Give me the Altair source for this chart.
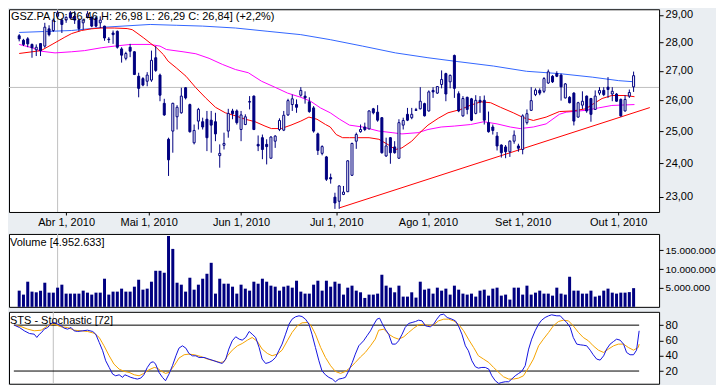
import json
import altair as alt
import pandas as pd

# ---------------- data ----------------
title_main = "GSZ.PA [O: 26,46  H: 26,98  L: 26,29  C: 26,84] (+2,2%)"
title_volume = "Volume [4.952.633]"
title_stoch = "STS - Stochastic [72]"

opens = [28.24, 28.08, 28.13, 27.93, 27.74, 27.96, 27.87, 28.49, 28.43, 28.95,
         28.81, 28.81, 29.08, 28.95, 28.80, 28.71, 28.93, 28.91, 28.89, 28.71,
         28.59, 28.12, 28.34, 28.40, 27.77, 27.44, 27.83, 27.67, 26.82, 26.74,
         26.65, 26.69, 27.46, 26.86, 25.91, 24.75, 25.01, 25.47, 25.60, 26.43,
         25.87, 24.64, 25.33, 25.31, 25.39, 25.36, 25.31, 24.24, 24.56, 25.01,
         25.66, 25.66, 25.06, 25.22, 25.95, 26.15, 24.59, 24.80, 24.59, 24.16,
         24.69, 25.06, 25.04, 25.53, 25.87, 25.87, 26.18, 26.15, 25.96, 25.76,
         24.92, 24.31, 24.20, 23.57, 22.99, 22.87, 23.07, 23.15, 23.64, 24.69,
         24.99, 25.14, 25.08, 25.73, 25.62, 25.44, 24.23, 24.80, 24.51, 24.16,
         25.20, 25.55, 25.44, 25.70, 25.73, 25.90, 25.66, 26.34, 26.25, 26.54,
         26.91, 26.63, 27.54, 26.23, 25.50, 26.11, 26.06, 25.58, 26.01, 26.01,
         25.28, 25.14, 24.85, 24.57, 24.51, 24.36, 24.69, 24.54, 24.43, 25.28,
         25.68, 26.20, 26.34, 26.31, 26.59, 26.82, 26.91, 26.86, 26.09, 26.11,
         26.25, 25.46, 25.85, 26.15, 26.07, 25.71, 26.25, 26.34, 26.45, 26.22,
         26.22, 26.04, 25.66, 26.15, 26.46]
highs = [28.30, 28.13, 28.19, 27.96, 27.93, 27.98, 28.71, 28.62, 28.87, 29.16,
         28.87, 28.95, 29.14, 29.14, 28.87, 28.86, 29.14, 28.95, 28.95, 28.95,
         28.60, 28.19, 28.43, 28.43, 27.83, 27.67, 27.95, 27.69, 26.94, 26.79,
         26.96, 27.71, 27.87, 26.91, 26.06, 24.80, 25.93, 25.85, 26.43, 26.45,
         25.90, 25.22, 25.76, 25.44, 25.66, 25.66, 25.60, 24.59, 24.96, 25.73,
         25.73, 25.71, 25.66, 25.55, 26.15, 26.17, 24.87, 24.90, 24.75, 24.85,
         24.88, 25.42, 25.66, 26.06, 26.20, 26.04, 26.45, 26.31, 26.11, 25.82,
         24.96, 24.56, 24.23, 23.69, 23.12, 23.34, 23.32, 24.10, 24.64, 24.96,
         25.22, 25.28, 25.68, 25.76, 25.85, 25.46, 24.80, 24.82, 24.69, 25.39,
         25.44, 25.76, 25.76, 25.76, 26.45, 25.93, 26.34, 26.45, 26.48, 27.02,
         26.94, 26.88, 27.57, 26.31, 26.15, 26.13, 26.09, 26.18, 26.15, 26.17,
         25.64, 25.22, 24.98, 24.59, 24.57, 24.72, 25.03, 24.61, 25.55, 25.71,
         26.45, 26.41, 26.41, 26.79, 27.05, 26.86, 26.99, 26.91, 26.59, 26.15,
         26.28, 25.96, 26.31, 26.17, 26.09, 26.34, 26.45, 26.45, 26.79, 26.45,
         26.25, 26.07, 26.18, 26.37, 26.98]
lows = [28.04, 27.87, 27.83, 27.46, 27.52, 27.52, 27.81, 28.22, 28.38, 28.89,
        28.34, 28.71, 28.83, 28.67, 28.40, 28.46, 28.87, 28.55, 28.55, 28.52,
        28.06, 27.98, 27.95, 27.78, 27.29, 27.37, 27.48, 26.86, 26.11, 26.48,
        26.48, 26.63, 26.97, 25.98, 25.50, 23.62, 24.33, 25.06, 25.57, 26.04,
        24.96, 24.59, 25.06, 25.06, 24.38, 24.33, 24.69, 23.87, 24.43, 24.80,
        25.39, 25.22, 24.69, 25.20, 25.71, 25.04, 24.38, 24.13, 23.97, 24.15,
        24.48, 25.01, 25.01, 25.50, 25.66, 25.60, 26.13, 25.90, 25.60, 24.96,
        24.26, 24.25, 23.47, 23.39, 22.65, 22.65, 23.05, 23.14, 23.62, 24.45,
        24.96, 25.01, 25.06, 25.55, 25.31, 24.30, 24.20, 23.99, 24.30, 24.14,
        25.06, 25.33, 25.39, 25.66, 25.71, 25.48, 25.64, 26.09, 26.22, 26.41,
        25.98, 26.41, 26.09, 25.62, 25.47, 25.55, 25.33, 25.55, 25.60, 25.22,
        24.96, 24.90, 24.40, 24.18, 24.16, 24.20, 24.61, 24.36, 24.28, 25.22,
        25.66, 26.15, 26.18, 26.25, 26.56, 26.59, 26.79, 26.00, 26.07, 25.91,
        25.19, 25.44, 25.72, 25.60, 25.31, 25.69, 26.18, 26.15, 26.09, 25.98,
        25.96, 25.47, 25.64, 26.09, 26.29]
closes = [28.13, 27.93, 27.95, 27.81, 27.83, 27.71, 28.55, 28.28, 28.81, 29.08,
          28.65, 28.91, 28.89, 28.81, 28.50, 28.81, 29.04, 28.59, 28.59, 28.81,
          28.16, 28.10, 28.28, 27.83, 27.55, 27.61, 27.69, 26.88, 26.41, 26.52,
          26.86, 27.37, 27.02, 26.18, 25.53, 24.11, 25.91, 25.78, 26.15, 26.09,
          24.99, 25.03, 25.71, 25.14, 24.80, 25.20, 24.92, 24.31, 24.62, 25.58,
          25.57, 25.28, 25.53, 25.47, 25.97, 25.06, 24.54, 24.43, 24.52, 24.82,
          24.85, 25.35, 25.52, 26.00, 26.06, 25.78, 26.34, 26.09, 25.64, 25.01,
          24.40, 24.52, 23.52, 23.53, 22.82, 23.32, 23.14, 24.08, 24.62, 24.90,
          25.06, 25.06, 25.66, 25.60, 25.36, 24.33, 24.54, 24.33, 24.33, 25.28,
          25.35, 25.36, 25.55, 25.68, 25.98, 25.50, 26.29, 26.29, 26.47, 26.71,
          26.22, 26.85, 26.41, 25.66, 26.07, 25.71, 25.36, 26.01, 25.95, 25.36,
          24.99, 25.03, 24.54, 24.33, 24.36, 24.69, 24.88, 24.47, 25.50, 25.57,
          26.00, 26.35, 26.25, 26.74, 26.97, 26.63, 26.82, 26.46, 26.56, 25.93,
          25.33, 25.93, 25.98, 25.66, 25.55, 26.15, 26.34, 26.20, 26.37, 26.31,
          25.98, 25.50, 26.04, 26.27, 26.84]
volume_millions = [4.29, 3.24, 6.66, 4.03, 3.85, 4.29, 6.39, 3.76, 3.76, 5.08,
                   5.87, 3.50, 3.50, 3.50, 3.50, 4.29, 3.76, 3.24, 3.76, 3.76,
                   7.45, 3.24, 4.03, 4.03, 4.82, 4.03, 4.03, 5.34, 7.18, 4.55,
                   4.82, 6.66, 9.55, 9.55, 9.03, 18.76, 15.34, 6.39, 5.87, 4.03,
                   7.71, 4.55, 5.87, 7.45, 8.76, 11.66, 3.50, 7.45, 6.13, 6.13,
                   5.34, 3.50, 5.87, 4.82, 4.29, 6.66, 6.13, 7.45, 6.66, 5.61,
                   5.34, 4.29, 5.34, 5.61, 5.08, 6.92, 4.03, 3.50, 3.50, 5.87,
                   6.92, 4.29, 6.92, 5.34, 6.66, 6.13, 3.24, 5.08, 5.61, 4.29,
                   3.85, 2.36, 3.24, 3.24, 3.50, 8.50, 5.61, 5.08, 3.85, 5.61,
                   2.71, 2.71, 3.85, 2.45, 6.66, 4.55, 4.82, 3.50, 5.08, 4.29,
                   4.82, 3.24, 5.61, 4.55, 3.50, 3.24, 3.50, 2.71, 4.29, 4.55,
                   2.97, 4.82, 5.08, 2.97, 3.24, 1.92, 5.08, 5.08, 3.24, 5.61,
                   3.24, 3.76, 4.29, 3.50, 3.50, 2.97, 5.08, 3.50, 3.24, 7.97,
                   4.29, 4.29, 3.50, 3.50, 4.29, 2.71, 2.97, 4.29, 4.82, 3.76,
                   3.50, 3.76, 3.76, 3.90, 4.95]

# moving averages (trading-day index, price)
ma_red_i = [0, 5.1, 7.7, 10.7, 12.3, 14.6, 16.9, 19.2, 22.3, 25.3, 26.5, 27.6, 29.2,
            30.7, 32.2, 33.8, 34.9, 36.8, 39.1, 41.4, 43.7, 46.0, 48.3, 50.7, 53.0,
            55.3, 57.6, 59.1, 61.4, 63.7, 66.0, 67.9, 69.8, 71.8, 72.9, 74.3, 75.8,
            77.4, 82.0, 84.3, 86.6, 88.2, 89.7, 92.0, 93.9, 95.8, 98.2, 100.5, 103.5,
            105.8, 108.2, 110.5, 112.8, 115.8, 118.2, 120.5, 123.5, 126.6, 129.7,
            132.8, 134.3, 136.6, 138.9, 142.0, 144.2]
ma_red_v = [27.61, 27.71, 27.93, 28.19, 28.32, 28.43, 28.49, 28.52, 28.52, 28.50, 28.46,
            28.34, 28.16, 27.98, 27.81, 27.57, 27.34, 27.11, 26.82, 26.43, 26.09, 25.78,
            25.60, 25.50, 25.39, 25.31, 25.17, 25.09, 25.09, 25.20, 25.33, 25.46, 25.39,
            25.22, 25.14, 24.90, 24.80, 24.80, 24.80, 24.75, 24.57, 24.43, 24.48, 24.69,
            24.96, 25.20, 25.42, 25.60, 25.71, 25.85, 25.96, 25.93, 25.78, 25.60, 25.44,
            25.35, 25.46, 25.64, 25.66, 25.73, 25.87, 26.07, 26.17, 26.17, 26.13]
ma_magenta_i = [0, 3.1, 5.1, 8.4, 12.3, 15.3, 19.2, 22.3, 26.1, 30.7, 33.0, 34.5, 38.4,
                41.4, 44.5, 47.6, 50.7, 53.7, 56.8, 59.9, 62.9, 66.0, 68.3, 70.6, 72.9,
                75.1, 77.4, 80.5, 84.3, 87.4, 89.7, 93.5, 95.8, 98.9, 102.0, 105.8,
                108.9, 112.0, 115.1, 117.4, 120.5, 123.5, 126.6, 128.2, 132.8, 135.8,
                138.9, 144.2]
ma_magenta_v = [27.93, 27.81, 27.69, 27.63, 27.67, 27.71, 27.81, 27.87, 27.93, 27.93,
                27.87, 27.75, 27.67, 27.60, 27.44, 27.23, 27.05, 26.94, 26.65, 26.45,
                26.25, 26.11, 25.98, 25.76, 25.60, 25.39, 25.20, 25.14, 25.01, 24.96,
                24.92, 24.96, 25.06, 25.14, 25.17, 25.22, 25.31, 25.24, 25.14, 25.09,
                25.14, 25.24, 25.55, 25.62, 25.68, 25.76, 25.84, 25.87]
ma_blue_i = [0, 12.3, 20.0, 30.7, 36.8, 43.0, 50.7, 58.3, 66.0, 72.9, 80.5, 88.2, 95.8,
             102.0, 111.2, 118.9, 126.6, 134.3, 140.5, 144.2]
ma_blue_v = [28.36, 28.43, 28.55, 28.65, 28.62, 28.59, 28.52, 28.40, 28.28, 28.10, 27.87,
             27.63, 27.46, 27.34, 27.17, 26.99, 26.91, 26.79, 26.67, 26.63]

trend_i = [75.1, 147.8]
trend_v = [22.68, 25.77]

stoch_k_i = [0.0, 1.2, 2.3, 3.5, 4.6, 5.2, 5.8, 6.3, 6.9, 7.7, 8.5, 9.2, 10.0, 10.8, 11.5,
             12.3, 13.1, 13.8, 14.6, 15.8, 16.9, 18.1, 18.8, 19.6, 20.4, 21.1, 21.9, 22.7,
             23.4, 24.2, 25.0, 25.5, 26.1, 26.9, 27.7, 28.4, 29.2, 29.9, 30.7, 31.5, 32.1,
             32.6, 33.4, 34.2, 34.9, 35.7, 36.5, 37.3, 38.0, 38.8, 39.6, 40.3, 41.1, 41.9,
             42.6, 43.8, 44.9, 46.1, 47.2, 48.0, 48.8, 49.5, 50.3, 51.1, 51.9, 52.6, 53.4,
             54.2, 54.9, 55.7, 56.5, 57.2, 58.0, 58.8, 59.5, 60.3, 61.1, 61.8, 62.6, 63.4,
             64.1, 64.9, 65.7, 66.4, 67.2, 68.0, 68.7, 69.5, 70.3, 71.0, 71.8, 72.6, 73.4,
             74.1, 74.9, 75.7, 76.4, 77.2, 78.0, 78.7, 79.5, 80.6, 81.4, 82.2, 83.0, 83.7,
             84.3, 84.9, 85.6, 86.4, 87.2, 88.0, 88.7, 89.5, 90.2, 91.0, 91.8, 92.6, 93.3,
             94.1, 94.9, 96.0, 96.8, 97.5, 98.3, 99.1, 99.9, 101.0, 101.8, 102.5, 103.3,
             104.1, 104.8, 105.6, 106.4, 107.1, 107.9, 108.7, 109.5, 110.2, 111.0, 111.8,
             112.5, 113.3, 114.1, 114.8, 115.6, 116.4, 117.1, 117.9, 118.7, 119.4, 120.2,
             121.0, 121.7, 122.5, 123.3, 124.0, 125.2, 126.0, 126.7, 127.5, 128.3, 129.0,
             129.8, 130.6, 131.3, 132.1, 132.9, 133.6, 134.4, 135.2, 136.0, 136.7, 137.5,
             138.3, 139.0, 139.8, 140.6, 141.3, 142.1, 142.9, 143.6, 144.2]
stoch_k_v = [80.0, 76.9, 72.6, 69.1, 68.2, 63.9, 68.2, 70.4, 74.8, 76.9, 82.2, 83.5, 81.3,
             79.1, 76.1, 74.8, 76.9, 72.6, 71.7, 72.6, 73.4, 71.7, 68.2, 57.4, 46.5, 33.4,
             24.7, 16.0, 13.8, 15.1, 11.7, 15.1, 13.8, 11.7, 10.4, 9.5, 10.8, 15.1, 24.7,
             31.2, 32.1, 29.1, 18.2, 11.7, 7.3, 16.0, 26.9, 39.9, 49.9, 53.0, 49.9, 43.0,
             39.9, 39.9, 37.8, 37.8, 35.6, 33.4, 31.2, 29.9, 35.6, 48.7, 59.5, 64.8, 61.7,
             60.4, 63.9, 71.7, 68.2, 63.9, 50.8, 35.6, 29.9, 31.2, 33.4, 37.8, 47.3, 55.2,
             68.2, 81.3, 87.8, 90.9, 92.2, 91.3, 87.8, 81.3, 68.2, 50.8, 33.4, 20.4, 15.1,
             11.7, 9.5, 6.0, 9.5, 10.4, 11.7, 20.4, 31.2, 42.1, 53.0, 59.5, 66.1, 72.6,
             81.3, 87.8, 89.1, 82.2, 74.8, 68.2, 55.2, 55.2, 59.5, 68.2, 76.9, 82.2, 83.5,
             84.8, 86.5, 85.6, 79.1, 77.8, 81.3, 87.8, 93.5, 94.3, 90.0, 87.8, 85.6, 79.1,
             68.2, 53.0, 46.5, 33.4, 25.6, 23.8, 24.7, 24.7, 22.5, 13.8, 7.3, 3.8, 5.1, 6.0,
             6.0, 9.5, 13.8, 16.9, 19.5, 26.9, 48.7, 61.7, 72.6, 81.3, 86.5, 90.0, 92.2,
             93.5, 92.2, 92.2, 87.8, 83.5, 76.9, 63.9, 55.2, 54.3, 53.8, 53.0, 47.3, 41.3,
             35.6, 34.3, 39.9, 48.7, 55.2, 58.7, 61.7, 60.4, 55.2, 44.3, 41.3, 41.3, 47.3,
             72.6]
stoch_d_i = [0.0, 1.5, 3.1, 4.6, 6.2, 7.7, 9.2, 10.8, 12.3, 13.8, 15.4, 16.9, 18.4, 19.6,
             20.7, 21.9, 23.0, 24.2, 25.4, 26.5, 27.7, 28.8, 29.9, 31.1, 32.3, 33.0, 33.8,
             34.9, 35.7, 36.9, 38.0, 39.2, 40.3, 41.5, 43.0, 44.6, 46.1, 47.6, 48.4, 49.2,
             50.3, 51.5, 52.6, 53.8, 54.9, 56.1, 57.2, 58.4, 59.5, 60.7, 61.8, 63.0, 64.1,
             65.3, 66.4, 67.6, 68.4, 69.5, 70.7, 71.8, 73.0, 74.1, 75.3, 76.4, 77.6, 78.7,
             79.9, 81.0, 82.2, 83.3, 84.1, 85.3, 86.4, 87.6, 88.7, 89.9, 91.0, 92.2, 93.3,
             94.5, 95.6, 96.8, 97.9, 99.1, 100.2, 101.4, 102.5, 103.7, 104.8, 106.0, 107.1,
             108.3, 109.5, 110.6, 111.8, 112.9, 114.1, 115.2, 116.4, 117.5, 118.7, 119.8,
             121.0, 122.1, 123.3, 124.4, 125.6, 126.7, 127.9, 129.0, 130.2, 131.3, 132.5,
             133.6, 134.8, 136.0, 137.1, 138.3, 139.4, 140.6, 141.7, 142.9, 144.0, 144.2]
stoch_d_v = [80.0, 78.2, 74.8, 72.6, 73.4, 79.1, 81.3, 77.8, 76.9, 73.4, 72.6, 71.7, 69.5,
             63.9, 53.0, 39.9, 29.1, 22.5, 19.5, 18.2, 15.1, 13.8, 16.9, 21.7, 24.7, 23.8,
             20.4, 16.9, 18.2, 26.9, 36.9, 41.3, 42.1, 41.3, 39.1, 35.6, 33.4, 31.2, 32.1,
             39.9, 47.3, 53.0, 56.0, 60.4, 63.9, 58.7, 48.7, 43.0, 40.0, 42.1, 47.3, 59.5,
             70.4, 79.1, 83.0, 83.5, 80.4, 68.2, 50.8, 37.8, 26.9, 19.5, 16.9, 19.5, 24.7,
             31.2, 38.5, 44.3, 53.0, 61.7, 73.4, 74.8, 68.2, 63.9, 61.7, 64.8, 70.4, 76.1,
             80.4, 81.3, 79.1, 80.4, 85.6, 87.8, 87.8, 85.6, 81.3, 72.6, 61.7, 50.8, 40.0,
             35.6, 31.2, 24.7, 18.2, 12.5, 9.5, 9.5, 10.8, 13.8, 24.7, 35.6, 53.0, 61.7,
             70.4, 79.1, 84.8, 86.5, 85.6, 79.1, 70.4, 63.9, 59.5, 53.0, 47.3, 44.3, 48.7,
             53.0, 55.2, 55.2, 50.8, 47.3, 50.8, 55.2]
stoch_levels = [80, 20]

month_tick_pos = [11, 30.35, 52, 74.3, 95.8, 118, 140.4]
month_labels = ["Abr 1, 2010", "Mai 1, 2010", "Jun 1, 2010", "Jul 1, 2010",
                "Ago 1, 2010", "Set 1, 2010", "Out 1, 2010"]
price_ticks = [23, 24, 25, 26, 27, 28, 29]
volume_ticks = [5, 10, 15]
volume_tick_labels = ["5.000.000", "10.000.000", "15.000.000"]
stoch_ticks = [20, 40, 60, 80]
cursor_i = 9.0
cursor_price = 26.44

# ---------------- styling ----------------
NAVY = "#000080"
FONT = "Liberation Sans"
W = 651
X_DOMAIN = [-1.22, 148.8]

xs = alt.Scale(domain=X_DOMAIN, nice=False, zero=False)
ys_price = alt.Scale(type="log", domain=[22.56, 29.21], nice=False, zero=False)
ys_vol = alt.Scale(domain=[0, 19.3], nice=False, zero=False)
ys_sto = alt.Scale(domain=[3.4, 97.4], nice=False, zero=False)

x_axis = alt.Axis(
    orient="bottom", values=month_tick_pos, title=None, grid=False, domain=False,
    tickSize=3, labelPadding=2, labelFlush=False, labelOverlap=False,
    labelExpr="%s[indexof(%s, datum.value)]" % (json.dumps(month_labels), json.dumps(month_tick_pos)),
)
price_axis = alt.Axis(
    orient="right", values=price_ticks, title=None, grid=False, domain=False,
    tickSize=4, labelPadding=2,
    labelExpr="replace(format(datum.value, '.2f'), '.', ',')",
)
vol_axis = alt.Axis(
    orient="right", values=volume_ticks, title=None, grid=False, domain=False,
    tickSize=4, labelPadding=2, labelFontSize=10,
    labelExpr="%s[indexof(%s, datum.value)]" % (json.dumps(volume_tick_labels), json.dumps(volume_ticks)),
)
sto_axis = alt.Axis(
    orient="right", values=stoch_ticks, title=None, grid=False, domain=False,
    tickSize=4, labelPadding=2,
)

n = len(opens)
candles = pd.DataFrame({
    "i": list(range(n)), "open": opens, "high": highs, "low": lows, "close": closes,
    "vol": volume_millions,
})
candles["fillc"] = ["white" if c >= o else NAVY for o, c in zip(opens, closes)]

def px(field):
    return alt.Y(field, type="quantitative", scale=ys_price, axis=price_axis)

def xi(field="i", axis=None):
    return alt.X(field, type="quantitative", scale=xs, axis=axis)

cross_df = pd.DataFrame({"i": [cursor_i], "p": [cursor_price]})

cross_h = alt.Chart(cross_df).mark_rule(color="#C0C0C0", strokeWidth=1).encode(
    y=px("p:Q"), x=alt.value(0), x2=alt.value(W))
cross_v_main = alt.Chart(cross_df).mark_rule(color="#C0C0C0", strokeWidth=1).encode(
    x=xi("i:Q", x_axis), y=alt.value(0), y2=alt.value(203))

def ma_layer(ii, vv, color):
    df = pd.DataFrame({"i": ii, "p": vv})
    return alt.Chart(df).mark_line(color=color, strokeWidth=1).encode(x=xi("i:Q", x_axis), y=px("p:Q"))

blue_ma = ma_layer(ma_blue_i, ma_blue_v, "#3366FF")
mag_ma = ma_layer(ma_magenta_i, ma_magenta_v, "#FF00FF")
red_ma = ma_layer(ma_red_i, ma_red_v, "#FF0000")
trend = ma_layer(trend_i, trend_v, "#FF0000")

wicks = alt.Chart(candles).mark_rule(color=NAVY, strokeWidth=1).encode(
    x=xi("i:Q", x_axis), y=px("low:Q"), y2="high:Q")
bodies = alt.Chart(candles).mark_bar(size=2, stroke=NAVY, strokeWidth=1).encode(
    x=xi("i:Q", x_axis), y=px("open:Q"), y2="close:Q",
    fill=alt.Fill("fillc:N", scale=None))

head = alt.Chart(cross_df).mark_text(
    text=title_main, align="left", baseline="top", font=FONT, fontSize=11, color="black"
).encode(x=alt.value(2), y=alt.value(2))

main = alt.layer(cross_h, cross_v_main, blue_ma, mag_ma, red_ma, trend, wicks, bodies, head).properties(
    width=W, height=203)

# volume panel
cross_v_vol = alt.Chart(cross_df).mark_rule(color="#C0C0C0").encode(
    x=xi("i:Q"), y=alt.value(0), y2=alt.value(73))
vol_bars = alt.Chart(candles).mark_bar(size=3, color=NAVY).encode(
    x=xi("i:Q"), y=alt.Y("vol:Q", scale=ys_vol, axis=vol_axis))
vol_head = alt.Chart(cross_df).mark_text(
    text=title_volume, align="left", baseline="top", font=FONT, fontSize=11, color="black"
).encode(x=alt.value(1), y=alt.value(3))
volume = alt.layer(cross_v_vol, vol_bars, vol_head).properties(width=W, height=73)

# stochastic panel
lev_df = pd.DataFrame({"a": [-0.1, -0.1], "b": [144.2, 144.2], "v": stoch_levels})
levels = alt.Chart(lev_df).mark_rule(color="black", strokeWidth=1).encode(
    x=xi("a:Q"), x2="b:Q", y=alt.Y("v:Q", scale=ys_sto, axis=sto_axis))
cross_v_sto = alt.Chart(cross_df).mark_rule(color="#C0C0C0").encode(
    x=xi("i:Q"), y=alt.value(0), y2=alt.value(72))
d_line = alt.Chart(pd.DataFrame({"i": stoch_d_i, "v": stoch_d_v})).mark_line(
    color="#F5A300", strokeWidth=1).encode(x=xi("i:Q"), y=alt.Y("v:Q", scale=ys_sto, axis=sto_axis))
k_line = alt.Chart(pd.DataFrame({"i": stoch_k_i, "v": stoch_k_v})).mark_line(
    color="#1414E0", strokeWidth=1).encode(x=xi("i:Q"), y=alt.Y("v:Q", scale=ys_sto, axis=sto_axis))
sto_head = alt.Chart(cross_df).mark_text(
    text=title_stoch, align="left", baseline="top", font=FONT, fontSize=11, color="black"
).encode(x=alt.value(1), y=alt.value(3))
stoch = alt.layer(cross_v_sto, levels, d_line, k_line, sto_head).properties(width=W, height=72)

lower = alt.vconcat(volume, stoch, spacing=5, bounds="flush")
chart = alt.vconcat(main, lower, spacing=22, bounds="flush").properties(
    background="#EAEEF2", padding=0
).configure_view(
    stroke="black", strokeWidth=1, fill="white"
).configure_axis(
    labelFont=FONT, labelFontSize=11, labelColor="black", tickColor="black", tickWidth=1
)

chart.save("out.html", embed_options={"renderer": "svg", "actions": False})
